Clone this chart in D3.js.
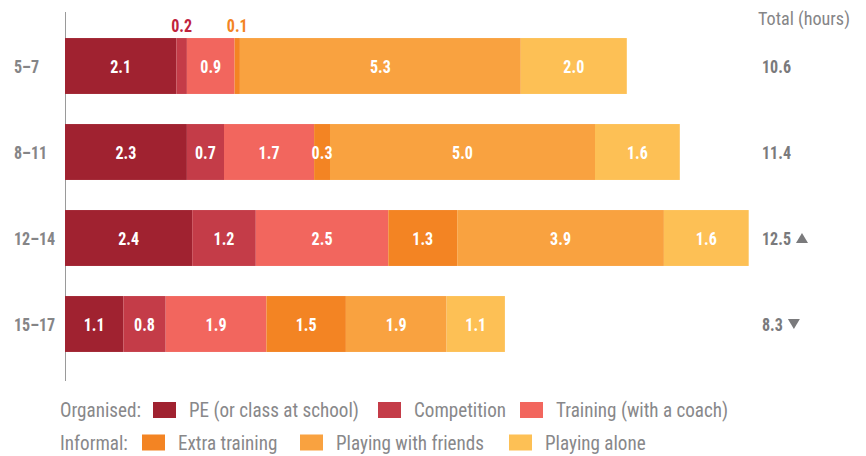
<!DOCTYPE html>
<html>
<head>
<meta charset="utf-8">
<script src="https://cdn.jsdelivr.net/npm/d3@7"></script>
<style>
  html, body { margin: 0; padding: 0; background: #fff; }
  svg { display: block; }
</style>
</head>
<body>
<svg id="chart" width="866" height="456"></svg>
<script>
const categories = ["5–7", "8–11", "12–14", "15–17"];
const seriesNames = ["PE (or class at school)", "Competition", "Training (with a coach)", "Extra training", "Playing with friends", "Playing alone"];
const peValues = [2.1, 2.3, 2.4, 1.1];
const competitionValues = [0.2, 0.7, 1.2, 0.8];
const trainingValues = [0.9, 1.7, 2.5, 1.9];
const extraValues = [0.1, 0.3, 1.3, 1.5];
const friendsValues = [5.3, 5.0, 3.9, 1.9];
const aloneValues = [2.0, 1.6, 1.6, 1.1];
const totals = ["10.6", "11.4", "12.5", "8.3"];
const trends = ["", "", "up", "down"];
const colors = ["#a02230", "#c43c48", "#f2665e", "#f38423", "#f9a240", "#fdc055"];
const labelColors = ["#a02230", "#c0233d", "#f2665e", "#f38423", "#f9a240", "#fdc055"];

const seriesValues = [peValues, competitionValues, trainingValues, extraValues, friendsValues, aloneValues];
const keys = d3.range(seriesNames.length).map(String);
const rows = categories.map((c, i) => {
  const o = { cat: c };
  seriesValues.forEach((v, k) => { o[k] = v[i]; });
  return o;
});
const stacked = d3.stack().keys(keys)(rows);

const svg = d3.select("#chart");

function measure(family, str, size, weight) {
  const t = svg.append("text").attr("font-family", family).attr("font-size", size)
    .attr("font-weight", weight || "normal").text(str);
  const w = t.node().getComputedTextLength();
  t.remove();
  return w;
}
const probe = "Total (hours) 0123456789";
const mono = measure("monospace", probe, 17);
let FONT = "Roboto";
if (measure("'Roboto Condensed', monospace", probe, 17) !== mono) FONT = "Roboto Condensed";
else if (measure("'Liberation Sans Narrow', monospace", probe, 17) !== mono) FONT = "Liberation Sans Narrow";
// horizontal squeeze so the glyphs look like the narrow original face
const SX = Math.min(1, 170 / measure(FONT, "PE (or class at school)", 20));
const SXB = Math.min(1, 29 / measure(FONT, "12.5", 19, "bold"));

function addText(x, y, str, o) {
  const s = o.weight === "bold" ? SXB : SX;
  return svg.append("text")
    .attr("transform", `translate(${x},${y}) scale(${s},1)`)
    .attr("font-family", FONT)
    .attr("font-size", o.size)
    .attr("font-weight", o.weight || "normal")
    .attr("fill", o.fill)
    .attr("text-anchor", o.anchor || "start")
    .attr("dy", o.dy || 0)
    .text(str);
}

const x = d3.scaleLinear().domain([0, 15]).range([65, 860]);
const y = d3.scaleBand().domain(categories).range([23, 367]).paddingInner(0.35).paddingOuter(0.175);

// axis line
svg.append("line").attr("x1", 65.5).attr("x2", 65.5).attr("y1", 12).attr("y2", 381)
  .attr("stroke", "#9a9a9a").attr("stroke-width", 1);

// bars
stacked.forEach((layer, k) => {
  svg.append("g").selectAll("rect").data(layer).enter().append("rect")
    .attr("x", d => x(d[0]))
    .attr("y", d => y(d.data.cat))
    .attr("width", d => x(d[1]) - x(d[0]))
    .attr("height", y.bandwidth())
    .attr("fill", colors[k]);
});

// value labels
stacked.forEach((layer, k) => {
  layer.forEach(d => {
    const v = d[1] - d[0];
    const cx = (x(d[0]) + x(d[1])) / 2;
    const small = v < 0.25;
    addText(cx, small ? y(d.data.cat) - 6 : y(d.data.cat) + y.bandwidth() / 2, d3.format(".1f")(v), {
      size: 19, weight: "bold", anchor: "middle",
      fill: small ? labelColors[k] : "#fff", dy: small ? 0 : "0.36em"
    });
  });
});

// category labels
categories.forEach(c => {
  addText(14, y(c) + y.bandwidth() / 2, c, { size: 19, weight: "bold", fill: "#858587", dy: "0.36em" });
});

// totals
addText(758, 25, "Total (hours)", { size: 19, fill: "#858587" });
categories.forEach((c, i) => {
  const cy = y(c) + y.bandwidth() / 2;
  const t = addText(762, cy, totals[i], { size: 19, weight: "bold", fill: "#7a7a7c", dy: "0.36em" });
  if (trends[i]) {
    const w = t.node().getComputedTextLength() * SXB;
    const tx = 762 + w + 11;
    const pts = trends[i] === "up"
      ? [[tx - 6, cy + 5], [tx + 6, cy + 5], [tx, cy - 5]]
      : [[tx - 6, cy - 5], [tx + 6, cy - 5], [tx, cy + 5]];
    svg.append("path").attr("d", d3.line()(pts) + "Z").attr("fill", "#7a7a7c");
  }
});

// legend
const legendRows = [
  { title: "Organised:", y: 410, items: [0, 1, 2], swatchX: [153, 378, 520] },
  { title: "Informal:", y: 442.5, items: [3, 4, 5], swatchX: [142, 300, 509] }
];
legendRows.forEach(r => {
  addText(60, r.y, r.title, { size: 20, fill: "#88888a", dy: "0.36em" });
  r.items.forEach((k, j) => {
    svg.append("rect").attr("x", r.swatchX[j]).attr("y", r.y - 8).attr("width", 23).attr("height", 16)
      .attr("fill", colors[k]);
    addText(r.swatchX[j] + 36, r.y, seriesNames[k], { size: 20, fill: "#88888a", dy: "0.36em" });
  });
});
</script>
</body>
</html>
